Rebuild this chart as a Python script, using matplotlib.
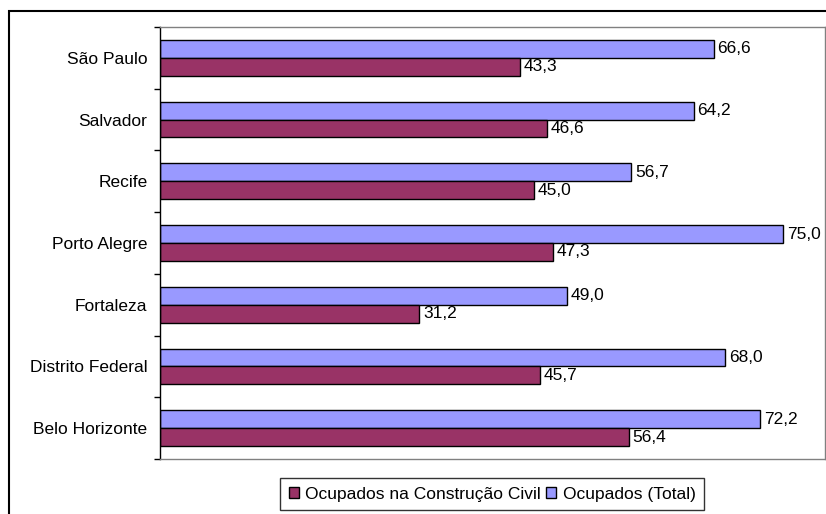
import matplotlib
matplotlib.use("Agg")
import matplotlib.pyplot as plt
import numpy as np
from matplotlib.patches import Rectangle

plt.rcParams['font.family'] = ['Liberation Sans', 'DejaVu Sans']

# data (top to bottom as shown)
regions = ["São Paulo", "Salvador", "Recife", "Porto Alegre",
           "Fortaleza", "Distrito Federal", "Belo Horizonte"]
total = [66.6, 64.2, 56.7, 75.0, 49.0, 68.0, 72.2]
construcao = [43.3, 46.6, 45.0, 47.3, 31.2, 45.7, 56.4]
labels = ["Ocupados na Construção Civil", "Ocupados (Total)"]

blue = "#9999FF"
purple = "#993366"
fs = 12.5

W, H = 826, 514
fig = plt.figure(figsize=(W / 100, H / 100), dpi=100)
ax = fig.add_axes([160 / W, 1 - 459 / H, (825 - 160) / W, (459 - 27) / H])

n = len(regions)
y = np.arange(n)[::-1]
bh = 0.29

b1 = ax.barh(y + bh / 2, total, height=bh, color=blue, edgecolor="black", linewidth=1.0,
             label=labels[1])
b2 = ax.barh(y - bh / 2, construcao, height=bh, color=purple, edgecolor="black", linewidth=1.0,
             label=labels[0])

for bars, vals in ((b1, total), (b2, construcao)):
    for rect, v in zip(bars, vals):
        ax.text(v + 0.45, rect.get_y() + rect.get_height() / 2, f"{v:.1f}".replace(".", ","),
                va="center", ha="left", fontsize=fs)

ax.set_xlim(0, 80)
ax.set_ylim(-0.5, n - 0.5)
ax.set_xticks([])
ax.set_yticks(y)
ax.set_yticklabels(regions, fontsize=fs)
ax.set_yticks(np.arange(n + 1) - 0.5, minor=True)
ax.tick_params(axis="y", which="major", length=0, pad=9)
ax.tick_params(axis="y", which="minor", length=4, width=1, color="black", direction="out")

for s in ("top", "right", "bottom"):
    ax.spines[s].set_color("#808080")
    ax.spines[s].set_linewidth(1.0)
ax.spines["left"].set_color("black")
ax.spines["left"].set_linewidth(1.0)

handles = [b2, b1]
leg = fig.legend(handles, labels, loc="center", bbox_to_anchor=(492 / W, 1 - 494 / H),
                 ncol=2, fontsize=fs, frameon=True, fancybox=False, edgecolor="black",
                 handlelength=0.6, handleheight=0.6, handletextpad=0.35, columnspacing=0.3,
                 borderpad=0.5, borderaxespad=0)
leg.get_frame().set_linewidth(1.0)

# outer chart frame (cut off at right and bottom)
fig.add_artist(Rectangle((9 / W, -0.1), 1.2, 1 - 11 / H + 0.1, transform=fig.transFigure,
                         fill=False, edgecolor="black", linewidth=1.5))
fig.text(755 / W, 1 + 4 / H, "(", fontsize=fs, ha="left", va="baseline")

fig.savefig("out.png", dpi=100)
